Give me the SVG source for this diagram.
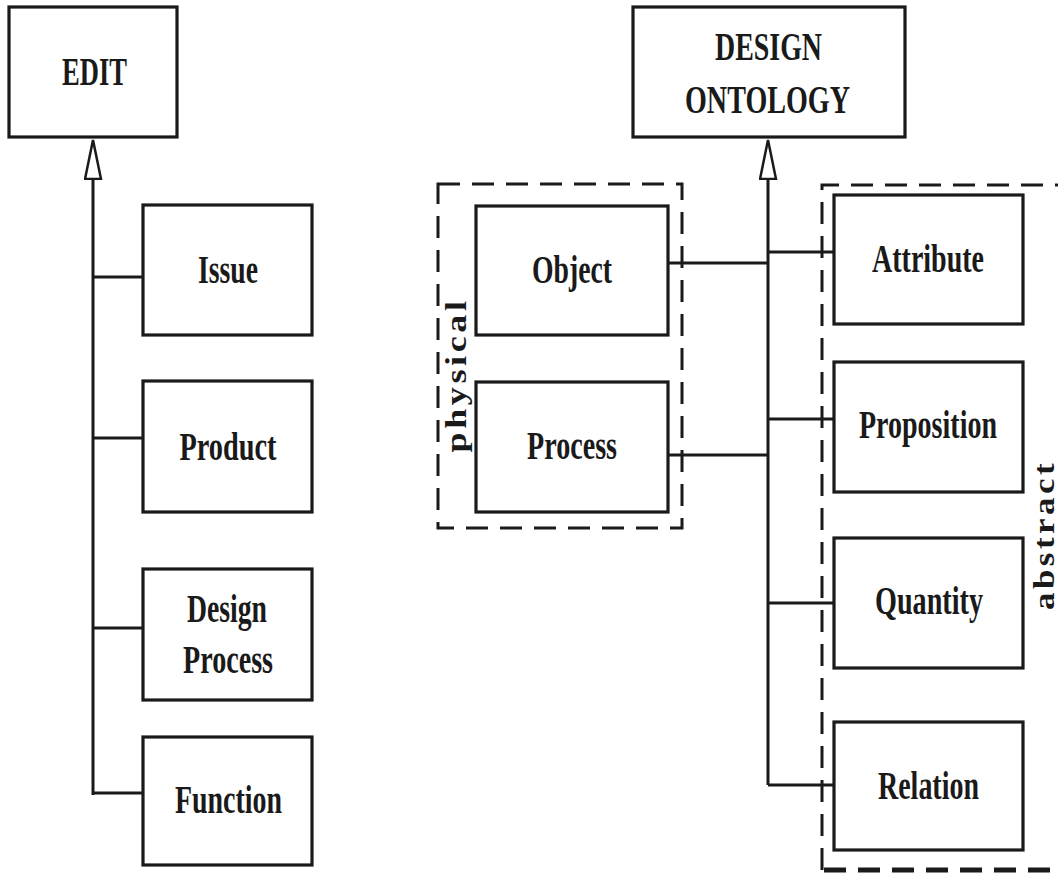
<svg xmlns="http://www.w3.org/2000/svg" width="1058" height="877" viewBox="0 0 1058 877">
  <style>
    .box { fill: #fff; stroke: #1a1a1a; stroke-width: 3.2; }
    .lbl { font-family: "Liberation Serif", "Times New Roman", serif; font-weight: bold; font-size: 40px; fill: #1a1a1a; text-anchor: middle; }
    .side { font-family: "Liberation Serif", "Times New Roman", serif; font-weight: bold; font-size: 30px; letter-spacing: 3px; fill: #1a1a1a; text-anchor: middle; }
    .wire { fill: none; stroke: #1a1a1a; stroke-width: 3; }
    .group { fill: none; stroke: #1a1a1a; stroke-width: 3; stroke-dasharray: 22 12; }
  </style>
  <defs>
    <marker id="hollow" markerUnits="userSpaceOnUse" markerWidth="44" markerHeight="22" refX="0" refY="9" orient="auto">
      <path d="M1,1 L40,9 L1,17 Z" fill="#fff" stroke="#1a1a1a" stroke-width="2.5"/>
    </marker>
  </defs>

  <rect width="1058" height="877" fill="#fff"/>

  <!-- grouping frames -->
  <g id="physical-group">
    <rect class="group" x="438" y="184" width="244" height="344"/>
    <text class="side" transform="translate(466,375) rotate(-90)" textLength="155" lengthAdjust="spacingAndGlyphs">physical</text>
  </g>
  <g id="abstract-group">
    <path class="group" d="M822,870 V185 H1070"/>
    <path class="group" d="M824,870 H1070" style="stroke-width:5"/>
    <text class="side" transform="translate(1054,535) rotate(-90)" textLength="150" lengthAdjust="spacingAndGlyphs">abstract</text>
  </g>

  <!-- connectors -->
  <g id="connectors">
    <path class="wire" d="M93,795 V180" marker-end="url(#hollow)"/>
    <path class="wire" d="M93,277 H143 M93,438 H143 M93,628 H143 M93,793 H143"/>
    <path class="wire" d="M768,785 V180" marker-end="url(#hollow)"/>
    <path class="wire" d="M668,263 H768 M768,252 H834 M668,455 H768 M768,419 H834 M768,603 H834 M768,785 H834"/>
  </g>

  <!-- left hierarchy -->
  <g id="edit">
    <rect class="box" x="9" y="7" width="168" height="130"/>
    <text class="lbl" x="94.5" y="85" textLength="65" lengthAdjust="spacingAndGlyphs">EDIT</text>
  </g>
  <g id="issue">
    <rect class="box" x="143" y="205" width="169" height="130"/>
    <text class="lbl" x="228" y="283" textLength="60" lengthAdjust="spacingAndGlyphs">Issue</text>
  </g>
  <g id="product">
    <rect class="box" x="143" y="381" width="169" height="131"/>
    <text class="lbl" x="228" y="460" textLength="97" lengthAdjust="spacingAndGlyphs">Product</text>
  </g>
  <g id="design-process">
    <rect class="box" x="143" y="569" width="169" height="131"/>
    <text class="lbl" x="227" y="622" textLength="80" lengthAdjust="spacingAndGlyphs">Design</text>
    <text class="lbl" x="228" y="673" textLength="90" lengthAdjust="spacingAndGlyphs">Process</text>
  </g>
  <g id="function">
    <rect class="box" x="143" y="737" width="169" height="128"/>
    <text class="lbl" x="228.5" y="813" textLength="107" lengthAdjust="spacingAndGlyphs">Function</text>
  </g>

  <!-- right hierarchy -->
  <g id="design-ontology">
    <rect class="box" x="633" y="7" width="272" height="130"/>
    <text class="lbl" x="768.5" y="60" textLength="107" lengthAdjust="spacingAndGlyphs">DESIGN</text>
    <text class="lbl" x="767.5" y="113" textLength="165" lengthAdjust="spacingAndGlyphs">ONTOLOGY</text>
  </g>
  <g id="object">
    <rect class="box" x="476" y="206" width="192" height="129"/>
    <text class="lbl" x="572" y="283" textLength="80" lengthAdjust="spacingAndGlyphs">Object</text>
  </g>
  <g id="process">
    <rect class="box" x="476" y="382" width="192" height="130"/>
    <text class="lbl" x="572" y="459" textLength="90" lengthAdjust="spacingAndGlyphs">Process</text>
  </g>
  <g id="attribute">
    <rect class="box" x="834" y="195" width="189" height="129"/>
    <text class="lbl" x="928" y="272" textLength="112" lengthAdjust="spacingAndGlyphs">Attribute</text>
  </g>
  <g id="proposition">
    <rect class="box" x="834" y="362" width="189" height="130"/>
    <text class="lbl" x="928" y="438" textLength="138" lengthAdjust="spacingAndGlyphs">Proposition</text>
  </g>
  <g id="quantity">
    <rect class="box" x="834" y="538" width="189" height="130"/>
    <text class="lbl" x="929" y="614" textLength="108" lengthAdjust="spacingAndGlyphs">Quantity</text>
  </g>
  <g id="relation">
    <rect class="box" x="834" y="722" width="189" height="128"/>
    <text class="lbl" x="928.5" y="799" textLength="101" lengthAdjust="spacingAndGlyphs">Relation</text>
  </g>
</svg>
